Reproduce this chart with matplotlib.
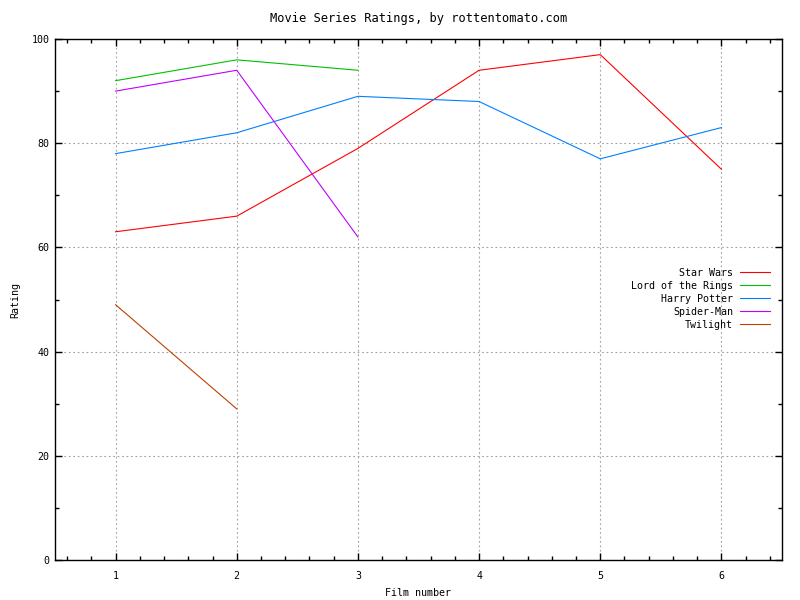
import matplotlib
matplotlib.use("Agg")
import matplotlib.pyplot as plt
from matplotlib.ticker import MultipleLocator

# ratings per film
films_sw = [1, 2, 3, 4, 5, 6]
star_wars = [63, 66, 79, 94, 97, 75]
films_lotr = [1, 2, 3]
lotr = [92, 96, 94]
films_hp = [1, 2, 3, 4, 5, 6]
harry_potter = [78, 82, 89, 88, 77, 83]
films_sm = [1, 2, 3]
spider_man = [90, 94, 62]
films_tw = [1, 2]
twilight = [49, 29]

plt.rcParams['font.family'] = 'DejaVu Sans Mono'
plt.rcParams['font.size'] = 7.2

fig = plt.figure(figsize=(8, 6), dpi=100)
ax = fig.add_axes([55/800, 40/600, 727/800, 521/600])

lw = 0.8
ax.plot(films_sw, star_wars, color='#ff0000', lw=lw, label='Star Wars')
ax.plot(films_lotr, lotr, color='#00c000', lw=lw, label='Lord of the Rings')
ax.plot(films_hp, harry_potter, color='#0080ff', lw=lw, label='Harry Potter')
ax.plot(films_sm, spider_man, color='#c000ff', lw=lw, label='Spider-Man')
ax.plot(films_tw, twilight, color='#c04000', lw=lw, label='Twilight')

ax.set_xlim(0.5, 6.5)
ax.set_ylim(0, 100)
ax.xaxis.set_major_locator(MultipleLocator(1))
ax.xaxis.set_minor_locator(MultipleLocator(0.2))
ax.yaxis.set_major_locator(MultipleLocator(20))
ax.yaxis.set_minor_locator(MultipleLocator(10))
ax.tick_params(which='both', direction='in', top=True, right=True, width=1, color='black')
ax.tick_params(which='major', length=5)
ax.tick_params(which='minor', length=3)
ax.tick_params(axis='x', which='major', pad=8)
ax.tick_params(axis='y', which='major', pad=4)
ax.grid(True, which='major', color='#a0a0a0', linestyle=(0, (1.5, 2.5)), lw=0.8)
for s in ax.spines.values():
    s.set_linewidth(1)

ax.set_title('Movie Series Ratings, by rottentomato.com', pad=12)
ax.set_xlabel('Film number', labelpad=5)
ax.set_ylabel('Rating', labelpad=8)

ax.legend(loc='center right', bbox_to_anchor=(0.9835, 0.501), frameon=False,
          markerfirst=False, handlelength=3, handletextpad=0.7,
          labelspacing=0.3, borderaxespad=0, borderpad=0)

fig.savefig('out.png', dpi=100)
